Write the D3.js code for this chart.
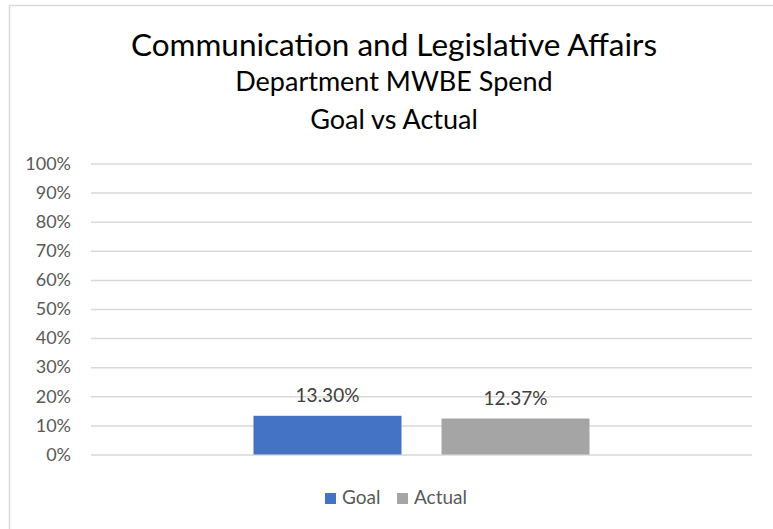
<!DOCTYPE html>
<html>
<head>
<meta charset="utf-8">
<script src="https://cdn.jsdelivr.net/npm/d3@7"></script>
<style>
  body { margin: 0; background: #fff; }
  text { font-family: Lato, "Open Sans", sans-serif; }
</style>
</head>
<body>
<script>
"use strict";

(function() {

let width = 773;
let height = 529;

// chart data
let titleLines = ['Communication and Legislative Affairs', 'Department MWBE Spend', 'Goal vs Actual'];
let categories = [''];
let seriesNames = ['Goal', 'Actual'];
let seriesValues = [0.133, 0.1237];
let seriesLabels = ['13.30%', '12.37%'];
let seriesColors = ['#4472C4', '#A5A5A5'];
let yTicks = [0, 0.1, 0.2, 0.3, 0.4, 0.5, 0.6, 0.7, 0.8, 0.9, 1.0];

let margin = { left: 91, right: 21, top: 163.5, bottom: 74.5 };

let svg = d3.select('body')
    .append('svg')
    .attr('width', width)
    .attr('height', height);

// chart border (runs off the right and bottom edges)
svg.append('rect')
    .attr('x', 9.5)
    .attr('y', 5.5)
    .attr('width', width + 20)
    .attr('height', height + 20)
    .attr('fill', '#fff')
    .attr('stroke', '#D9D9D9')
    .attr('stroke-width', 1.5);

// titles
let titleSizes = [31.5, 27, 27];
let titleY = [56, 91, 129];
svg.selectAll('.title')
    .data(titleLines)
    .enter()
    .append('text')
    .attr('class', 'title')
    .attr('x', 394)
    .attr('y', function(d, i) { return titleY[i]; })
    .attr('text-anchor', 'middle')
    .attr('fill', '#000')
    .style('font-size', function(d, i) { return titleSizes[i] + 'px'; })
    .text(function(d) { return d; });

let y = d3.scaleLinear()
    .domain([0, 1])
    .range([height - margin.bottom, margin.top]);

let x0 = d3.scaleBand()
    .domain(categories)
    .range([margin.left, width - margin.right])
    .paddingInner(0)
    .paddingOuter(0.4836);

let x1 = d3.scaleBand()
    .domain(seriesNames)
    .range([0, x0.bandwidth()])
    .paddingInner(0.2128)
    .paddingOuter(0);

// gridlines + y labels
let yAxis = d3.axisLeft(y)
    .tickValues(yTicks)
    .tickSize(-(width - margin.left - margin.right))
    .tickPadding(20)
    .tickFormat(d3.format('.0%'));

let gAxis = svg.append('g')
    .attr('transform', 'translate(' + margin.left + ',0)')
    .call(yAxis);

gAxis.select('.domain').remove();
gAxis.selectAll('.tick line')
    .attr('stroke', '#D9D9D9')
    .attr('stroke-width', 1.5);
gAxis.selectAll('.tick text')
    .attr('fill', '#595959')
    .style('font-size', '18px')
    .style('font-family', 'Lato, sans-serif');

let rows = seriesNames.map(function(s, i) {
    return { name: s, value: seriesValues[i], label: seriesLabels[i], color: seriesColors[i] };
});

let gBars = svg.append('g')
    .attr('transform', 'translate(' + x0(categories[0]) + ',0)');

gBars.selectAll('.bar')
    .data(rows)
    .enter()
    .append('rect')
    .attr('class', 'bar')
    .attr('x', function(d) { return x1(d.name); })
    .attr('y', function(d) { return y(d.value); })
    .attr('width', x1.bandwidth())
    .attr('height', function(d) { return y(0) - y(d.value); })
    .attr('fill', function(d) { return d.color; });

gBars.selectAll('.label')
    .data(rows)
    .enter()
    .append('text')
    .attr('class', 'label')
    .attr('x', function(d) { return x1(d.name) + x1.bandwidth() / 2; })
    .attr('y', function(d) { return y(d.value) - 14; })
    .attr('text-anchor', 'middle')
    .attr('fill', '#404040')
    .style('font-size', '19px')
    .text(function(d) { return d.label; });

// legend
let legendX = [325, 397];
let legend = svg.selectAll('.legend')
    .data(rows)
    .enter()
    .append('g')
    .attr('class', 'legend')
    .attr('transform', function(d, i) { return 'translate(' + legendX[i] + ',493)'; });

legend.append('rect')
    .attr('width', 11)
    .attr('height', 11)
    .attr('fill', function(d) { return d.color; });

legend.append('text')
    .attr('x', 17)
    .attr('y', 11)
    .attr('fill', '#595959')
    .style('font-size', '19px')
    .text(function(d) { return d.name; });

})();
</script>
</body>
</html>
